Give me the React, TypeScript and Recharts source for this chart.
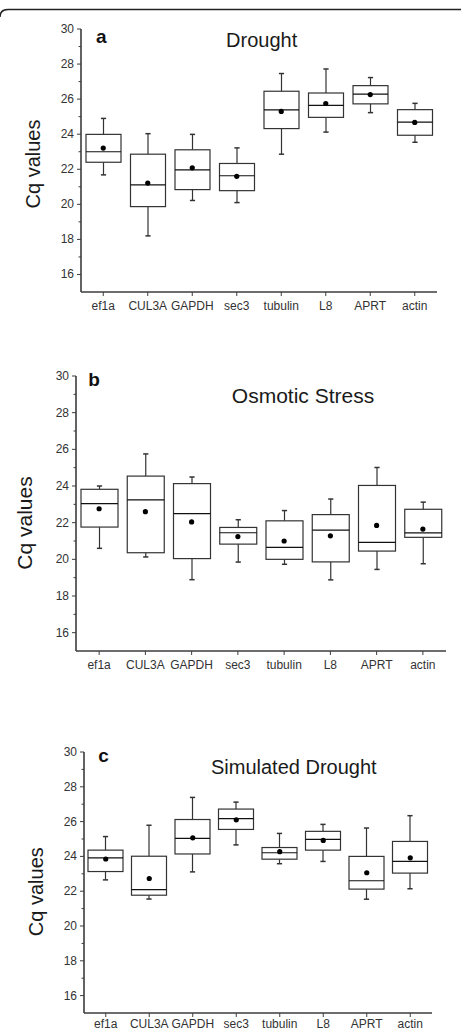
import React from 'react';
import { ComposedChart, Bar, Scatter, XAxis, YAxis } from 'recharts';

// Reference genes shown on every panel
const genes = ['ef1a', 'CUL3A', 'GAPDH', 'sec3', 'tubulin', 'L8', 'APRT', 'actin'];

// Y axis ticks (odd values are minor, unlabeled)
const yTicks = [16, 17, 18, 19, 20, 21, 22, 23, 24, 25, 26, 27, 28, 29, 30];

// a — Drought
const droughtMin = [21.68, 18.2, 20.22, 20.1, 22.86, 24.12, 25.23, 23.54];
const droughtQ1 = [22.4, 19.87, 20.84, 20.78, 24.32, 24.96, 25.73, 23.94];
const droughtMedian = [23.0, 21.11, 21.97, 21.63, 25.39, 25.64, 26.28, 24.69];
const droughtQ3 = [23.99, 22.86, 23.11, 22.33, 26.45, 26.35, 26.77, 25.4];
const droughtMax = [24.9, 24.03, 23.99, 23.22, 27.46, 27.72, 27.23, 25.76];
const droughtMean = [23.21, 21.21, 22.08, 21.6, 25.3, 25.75, 26.26, 24.67];

// b — Osmotic Stress
const osmoticMin = [20.6, 20.13, 18.89, 19.85, 19.73, 18.88, 19.45, 19.76];
const osmoticQ1 = [21.76, 20.36, 20.04, 20.83, 20.0, 19.86, 20.45, 21.2];
const osmoticMedian = [23.04, 23.24, 22.49, 21.45, 20.65, 21.59, 20.93, 21.44];
const osmoticQ3 = [23.82, 24.54, 24.13, 21.74, 22.1, 22.44, 24.03, 22.73];
const osmoticMax = [24.0, 25.75, 24.49, 22.16, 22.66, 23.29, 25.01, 23.12];
const osmoticMean = [22.76, 22.6, 22.04, 21.24, 21.0, 21.28, 21.85, 21.65];

// c — Simulated Drought
const simulatedMin = [22.65, 21.55, 23.11, 24.66, 23.58, 23.71, 21.54, 22.14];
const simulatedQ1 = [23.13, 21.77, 24.14, 25.55, 23.84, 24.36, 22.12, 23.04];
const simulatedMedian = [23.91, 22.09, 25.04, 26.17, 24.21, 24.98, 22.6, 23.71];
const simulatedQ3 = [24.36, 24.01, 26.12, 26.72, 24.51, 25.44, 24.0, 24.86];
const simulatedMax = [25.14, 25.79, 27.39, 27.12, 25.32, 25.84, 25.63, 26.34];
const simulatedMean = [23.85, 22.73, 25.07, 26.1, 24.27, 24.92, 23.06, 23.92];

type Row = {
  gene: string;
  lo: number;
  q1: number;
  med: number;
  q3: number;
  hi: number;
  mean: number;
  range: [number, number];
};

const buildRows = (
  min: number[],
  q1: number[],
  med: number[],
  q3: number[],
  max: number[],
  mean: number[]
): Row[] =>
  genes.map((gene, i) => ({
    gene,
    lo: min[i],
    q1: q1[i],
    med: med[i],
    q3: q3[i],
    hi: max[i],
    mean: mean[i],
    range: [min[i], max[i]],
  }));

const INK = '#333';
const AXIS = '#3c3c3c';
const FONT = '"Liberation Sans", Arial, Helvetica, sans-serif';

// Whisker-to-whisker bar drawn as a full box plot
const BoxShape = (props: any) => {
  const { x, y, width, height, payload } = props;
  if (payload == null) return null;
  const { lo, hi, q1, q3, med } = payload as Row;
  const top = Math.min(y, y + height);
  const h = Math.abs(height);
  const py = (v: number) => top + ((hi - v) / (hi - lo)) * h;
  const cx = x + width / 2;
  const cap = 2.6;
  return (
    <g stroke={INK} strokeWidth={1.2} fill="none">
      <line x1={cx} x2={cx} y1={py(hi)} y2={py(q3)} />
      <line x1={cx} x2={cx} y1={py(q1)} y2={py(lo)} />
      <line x1={cx - cap} x2={cx + cap} y1={py(hi)} y2={py(hi)} strokeWidth={1.5} />
      <line x1={cx - cap} x2={cx + cap} y1={py(lo)} y2={py(lo)} strokeWidth={1.5} />
      <rect x={x} y={py(q3)} width={width} height={py(q1) - py(q3)} fill="#fff" />
      <line x1={x} x2={x + width} y1={py(med)} y2={py(med)} stroke="#111" />
    </g>
  );
};

const MeanDot = (props: any) => {
  const { cx, cy } = props;
  if (cx == null || cy == null) return null;
  return <circle cx={cx} cy={cy} r={2.6} fill="#000" />;
};

const makeYTick = (axisX: number) => (props: any) => {
  const { y, payload } = props;
  const v = payload.value as number;
  const major = v % 2 === 0;
  return (
    <g>
      <line x1={axisX - (major ? 4 : 2.5)} x2={axisX} y1={y} y2={y} stroke={AXIS} strokeWidth={1} />
      {major && (
        <text
          x={axisX - 7}
          y={y}
          textAnchor="end"
          dominantBaseline="central"
          fontSize={12}
          fill={INK}
          fontFamily={FONT}
        >
          {v}
        </text>
      )}
    </g>
  );
};

type PanelProps = {
  rows: Row[];
  top: number;
  height: number;
  marginTop: number;
  marginRight: number;
  yWidth: number;
  barSize: number;
  labelGap: number;
};

const Panel = ({ rows, top, height, marginTop, marginRight, yWidth, barSize, labelGap }: PanelProps) => (
  <div style={{ position: 'absolute', left: 0, top }}>
    <ComposedChart
      width={461}
      height={height}
      data={rows}
      margin={{ top: marginTop, right: marginRight, bottom: 0, left: 0 }}
    >
      <XAxis
        dataKey="gene"
        type="category"
        interval={0}
        height={30}
        tickSize={4}
        tickMargin={labelGap}
        tickLine={{ stroke: AXIS, strokeWidth: 1 }}
        axisLine={{ stroke: AXIS, strokeWidth: 1.6 }}
        tick={{ fontSize: 12, fill: INK, fontFamily: FONT }}
      />
      <YAxis
        type="number"
        domain={[15, 30]}
        ticks={yTicks}
        interval={0}
        width={yWidth}
        allowDataOverflow
        tickLine={false}
        axisLine={{ stroke: AXIS, strokeWidth: 1.6 }}
        tick={makeYTick(yWidth)}
      />
      <Bar dataKey="range" barSize={barSize} shape={BoxShape} isAnimationActive={false} />
      <Scatter dataKey="mean" shape={MeanDot} isAnimationActive={false} />
    </ComposedChart>
  </div>
);

const droughtRows = buildRows(droughtMin, droughtQ1, droughtMedian, droughtQ3, droughtMax, droughtMean);
const osmoticRows = buildRows(osmoticMin, osmoticQ1, osmoticMedian, osmoticQ3, osmoticMax, osmoticMean);
const simulatedRows = buildRows(
  simulatedMin,
  simulatedQ1,
  simulatedMedian,
  simulatedQ3,
  simulatedMax,
  simulatedMean
);

const YLabel = ({ x, y, size }: { x: number; y: number; size: number }) => (
  <text
    transform={`translate(${x},${y}) rotate(-90)`}
    textAnchor="middle"
    fontSize={size}
    fill="#1a1a1a"
  >
    Cq values
  </text>
);

export default function App() {
  return (
    <div
      style={{
        position: 'absolute',
        left: 0,
        top: 0,
        width: 461,
        height: 1032,
        overflow: 'hidden',
        background: '#fff',
        fontFamily: FONT,
      }}
    >
      <Panel rows={droughtRows} top={0} height={322} marginTop={29} marginRight={24} yWidth={81} barSize={35} labelGap={5} />
      <Panel rows={osmoticRows} top={340} height={341} marginTop={36} marginRight={15} yWidth={76} barSize={37} labelGap={5} />
      <Panel rows={simulatedRows} top={700} height={343} marginTop={52} marginRight={29} yWidth={84} barSize={35} labelGap={2} />

      <svg
        width={461}
        height={1032}
        style={{ position: 'absolute', left: 0, top: 0, pointerEvents: 'none' }}
        fontFamily={FONT}
      >
        <path d="M 0 17 Q 0 9.5 8 9.5 L 461 9.5" fill="none" stroke="#222" strokeWidth={1.5} />

        <text x={96} y={42.7} fontSize={19} fontWeight="bold" fill="#111">a</text>
        <text x={261.7} y={46.7} fontSize={20} textAnchor="middle" fill="#1a1a1a">Drought</text>
        <YLabel x={40} y={164} size={20} />

        <text x={88.3} y={386} fontSize={19} fontWeight="bold" fill="#111">b</text>
        <text x={303} y={403.3} fontSize={21} textAnchor="middle" fill="#1a1a1a">Osmotic Stress</text>
        <YLabel x={32} y={523} size={21} />

        <text x={98.3} y={761.7} fontSize={19} fontWeight="bold" fill="#111">c</text>
        <text x={293.8} y={774.3} fontSize={20} textAnchor="middle" fill="#1a1a1a">Simulated Drought</text>
        <YLabel x={43} y={891.7} size={20} />
      </svg>
    </div>
  );
}
